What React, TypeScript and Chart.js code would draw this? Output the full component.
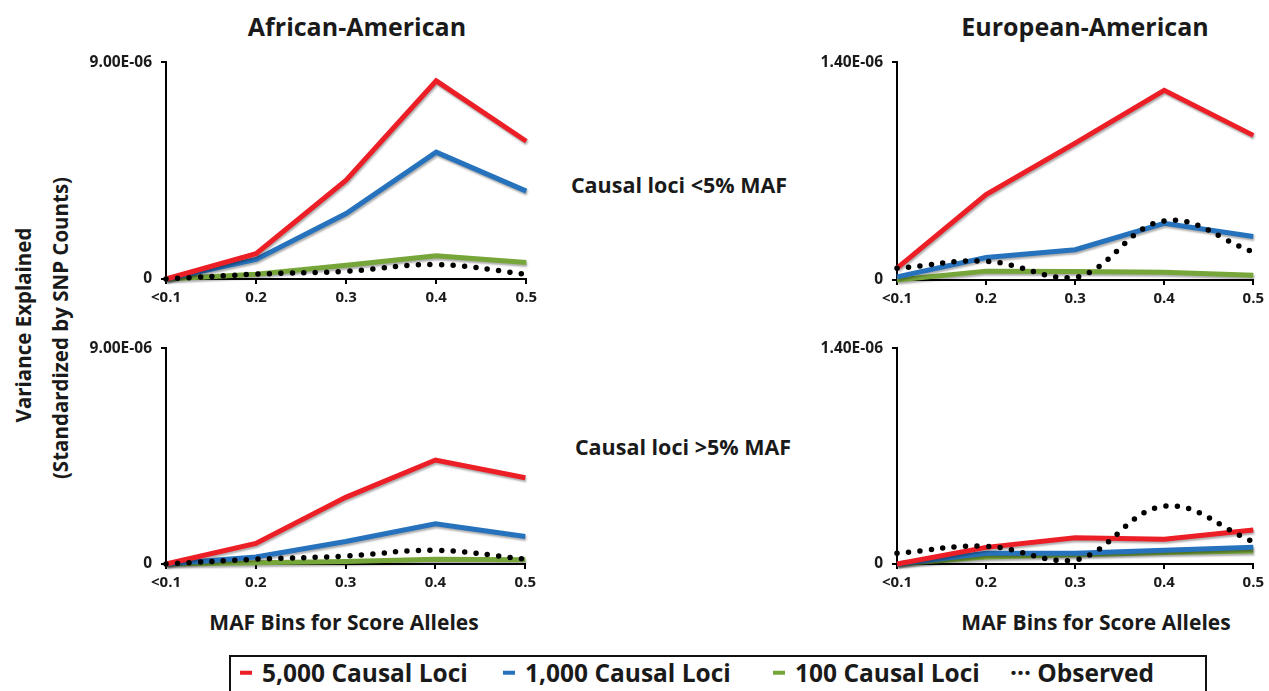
import React, { useEffect, useRef } from 'react';
import { Chart, registerables } from 'chart.js';

Chart.register(...registerables);

// ---------- data ----------
const categories = ['<0.1', '0.2', '0.3', '0.4', '0.5'];
const seriesNames = ['5,000 Causal Loci', '1,000 Causal Loci', '100 Causal Loci', 'Observed'];

// African-American, causal loci <5% MAF
const aaRare5000 = [0, 1.05e-6, 4.1e-6, 8.23e-6, 5.72e-6];
const aaRare1000 = [0, 0.81e-6, 2.72e-6, 5.27e-6, 3.65e-6];
const aaRare100 = [0, 0.2e-6, 0.57e-6, 0.97e-6, 0.69e-6];
const aaRareObs = [0, 0.2e-6, 0.32e-6, 0.6e-6, 0.2e-6];

// European-American, causal loci <5% MAF
const eaRare5000 = [0.076e-6, 0.55e-6, 0.88e-6, 1.22e-6, 0.93e-6];
const eaRare1000 = [0.02e-6, 0.145e-6, 0.195e-6, 0.365e-6, 0.28e-6];
const eaRare100 = [0, 0.057e-6, 0.055e-6, 0.05e-6, 0.03e-6];
const eaRareObs = [0.075e-6, 0.12e-6, 0.015e-6, 0.38e-6, 0.18e-6];

// African-American, causal loci >5% MAF
const aaCommon5000 = [0, 0.86e-6, 2.78e-6, 4.34e-6, 3.6e-6];
const aaCommon1000 = [0, 0.29e-6, 0.94e-6, 1.68e-6, 1.15e-6];
const aaCommon100 = [0, 0.05e-6, 0.1e-6, 0.2e-6, 0.18e-6];
const aaCommonObs = [0, 0.2e-6, 0.33e-6, 0.57e-6, 0.2e-6];

// European-American, causal loci >5% MAF
const eaCommon5000 = [0, 0.108e-6, 0.17e-6, 0.16e-6, 0.22e-6];
const eaCommon1000 = [0, 0.07e-6, 0.07e-6, 0.09e-6, 0.108e-6];
const eaCommon100 = [0, 0.045e-6, 0.06e-6, 0.075e-6, 0.085e-6];
const eaCommonObs = [0.07e-6, 0.115e-6, 0.025e-6, 0.375e-6, 0.145e-6];

const aaYMax = 9e-6;
const eaYMax = 1.4e-6;
const aaYTickLabels = ['0', '9.00E-06'];
const eaYTickLabels = ['0', '1.40E-06'];

// ---------- style ----------
const FONT = "'Open Sans', 'Noto Sans', sans-serif";
const RED = 'rgb(236,30,38)';
const BLUE = 'rgb(38,114,188)';
const GREEN = 'rgb(118,166,58)';
const Y_AXIS_W = 100;
const PAD_TOP = 14;
const PAD_RIGHT = 12;
const X_AXIS_H = 36;

const shadowPlugin = {
  id: 'lineShadow',
  beforeDatasetDraw(chart: any, args: any) {
    const ds = chart.data.datasets[args.index];
    if (ds.label !== 'Observed') {
      const c = chart.ctx;
      c.save();
      c.shadowColor = 'rgba(0,0,0,0.32)';
      c.shadowBlur = 2;
      c.shadowOffsetX = 1;
      c.shadowOffsetY = 2;
    }
  },
  afterDatasetDraw(chart: any, args: any) {
    const ds = chart.data.datasets[args.index];
    if (ds.label !== 'Observed') chart.ctx.restore();
  },
};

type Area = { left: number; right: number; top: number; bottom: number };

function Panel(props: {
  area: Area;
  yMax: number;
  yTickLabels: string[];
  s5000: number[];
  s1000: number[];
  s100: number[];
  obs: number[];
}) {
  const { area, yMax, yTickLabels, s5000, s1000, s100, obs } = props;
  const ref = useRef<HTMLCanvasElement>(null);
  const left = area.left - Y_AXIS_W;
  const top = area.top - PAD_TOP;
  const width = area.right - area.left + Y_AXIS_W + PAD_RIGHT;
  const height = area.bottom - area.top + PAD_TOP + X_AXIS_H;

  useEffect(() => {
    const axisGrid = {
      display: true,
      drawOnChartArea: false,
      drawTicks: true,
      tickLength: 5,
      color: '#000',
      lineWidth: 2,
    };
    const chart = new Chart(ref.current as HTMLCanvasElement, {
      type: 'line',
      data: {
        labels: categories,
        datasets: [
          {
            label: seriesNames[3],
            data: obs,
            borderColor: '#000',
            borderWidth: 5.5,
            borderDash: [0, 11.5],
            borderCapStyle: 'round',
            tension: 0.4,
            pointRadius: 0,
            clip: false,
          } as any,
          { label: seriesNames[0], data: s5000, borderColor: RED, borderWidth: 5, tension: 0, pointRadius: 0, clip: false } as any,
          { label: seriesNames[1], data: s1000, borderColor: BLUE, borderWidth: 5, tension: 0, pointRadius: 0, clip: false } as any,
          { label: seriesNames[2], data: s100, borderColor: GREEN, borderWidth: 5, tension: 0, pointRadius: 0, clip: false } as any,
        ],
      },
      options: {
        animation: false,
        responsive: false,
        maintainAspectRatio: false,
        layout: { padding: { top: PAD_TOP, right: PAD_RIGHT, left: 0, bottom: 0 } },
        plugins: { legend: { display: false }, tooltip: { enabled: false } },
        scales: {
          x: {
            type: 'category',
            offset: false,
            grid: axisGrid,
            border: { display: true, color: '#000', width: 2 },
            ticks: {
              color: '#1a1a1a',
              font: { family: FONT, size: 15, weight: 'bold' as const },
              padding: 5,
              maxRotation: 0,
              autoSkip: false,
            },
            afterFit: (s: any) => {
              s.height = X_AXIS_H;
            },
          },
          y: {
            min: 0,
            max: yMax,
            afterBuildTicks: (s: any) => {
              s.ticks = [{ value: 0 }, { value: yMax }];
            },
            grid: axisGrid,
            border: { display: true, color: '#000', width: 2 },
            ticks: {
              color: '#1a1a1a',
              font: { family: FONT, size: 15.5, weight: 'bold' as const },
              padding: 9,
              callback: (_v: any, i: number) => yTickLabels[i],
            },
            afterFit: (s: any) => {
              s.width = Y_AXIS_W;
            },
          },
        },
      } as any,
      plugins: [shadowPlugin],
    });
    return () => chart.destroy();
  }, []);

  return (
    <canvas
      ref={ref}
      width={width}
      height={height}
      style={{ position: 'absolute', left, top, width, height }}
    />
  );
}

function Label(props: { x: number; y: number; size: number; text: string; rotate?: boolean }) {
  const { x, y, size, text, rotate } = props;
  return (
    <div
      style={{
        position: 'absolute',
        left: x,
        top: y,
        transform: `translate(-50%, -50%)${rotate ? ' rotate(-90deg)' : ''}`,
        fontFamily: FONT,
        fontWeight: 700,
        fontSize: size,
        lineHeight: 1,
        whiteSpace: 'nowrap',
        color: '#1a1a1a',
      }}
    >
      {text}
    </div>
  );
}

function LegendItem(props: { x: number; color?: string; text: string }) {
  const { x, color, text } = props;
  return (
    <div
      style={{
        position: 'absolute',
        left: x,
        top: 673,
        transform: 'translateY(-50%)',
        display: 'flex',
        alignItems: 'center',
        fontFamily: FONT,
        fontWeight: 700,
        fontSize: 24.5,
        lineHeight: 1,
        whiteSpace: 'nowrap',
        color: '#1a1a1a',
      }}
    >
      {color ? (
        <span style={{ display: 'inline-block', width: 12, height: 4, background: color, marginRight: 10 }} />
      ) : null}
      <span>{text}</span>
    </div>
  );
}

export default function App() {
  return (
    <div
      style={{
        position: 'absolute',
        left: 0,
        top: 0,
        width: 1269,
        height: 691,
        overflow: 'hidden',
        background: '#fff',
      }}
    >
      <Label x={357} y={26} size={25} text="African-American" />
      <Label x={1085} y={26} size={25} text="European-American" />
      <Label x={679} y={185} size={21.5} text="Causal loci <5% MAF" />
      <Label x={683} y={447} size={21.5} text="Causal loci >5% MAF" />
      <Label x={23} y={325} size={20.5} text="Variance Explained" rotate />
      <Label x={60} y={328} size={20.5} text="(Standardized by SNP Counts)" rotate />
      <Label x={344} y={622} size={21} text="MAF Bins for Score Alleles" />
      <Label x={1096} y={622} size={21} text="MAF Bins for Score Alleles" />

      <Panel
        area={{ left: 166, right: 530, top: 58, bottom: 279 }}
        yMax={aaYMax}
        yTickLabels={aaYTickLabels}
        s5000={aaRare5000}
        s1000={aaRare1000}
        s100={aaRare100}
        obs={aaRareObs}
      />
      <Panel
        area={{ left: 897, right: 1257, top: 58, bottom: 280 }}
        yMax={eaYMax}
        yTickLabels={eaYTickLabels}
        s5000={eaRare5000}
        s1000={eaRare1000}
        s100={eaRare100}
        obs={eaRareObs}
      />
      <Panel
        area={{ left: 166, right: 529, top: 344, bottom: 564 }}
        yMax={aaYMax}
        yTickLabels={aaYTickLabels}
        s5000={aaCommon5000}
        s1000={aaCommon1000}
        s100={aaCommon100}
        obs={aaCommonObs}
      />
      <Panel
        area={{ left: 897, right: 1257, top: 344, bottom: 564 }}
        yMax={eaYMax}
        yTickLabels={eaYTickLabels}
        s5000={eaCommon5000}
        s1000={eaCommon1000}
        s100={eaCommon100}
        obs={eaCommonObs}
      />

      <div
        style={{
          position: 'absolute',
          left: 229,
          top: 655,
          width: 978,
          height: 60,
          border: '2px solid #111',
          boxSizing: 'border-box',
        }}
      />
      <LegendItem x={240} color={RED} text={seriesNames[0]} />
      <LegendItem x={503} color={BLUE} text={seriesNames[1]} />
      <LegendItem x={773} color={GREEN} text={seriesNames[2]} />
      <LegendItem x={1010} text={'\u00B7\u00B7\u00B7 ' + seriesNames[3]} />
    </div>
  );
}
